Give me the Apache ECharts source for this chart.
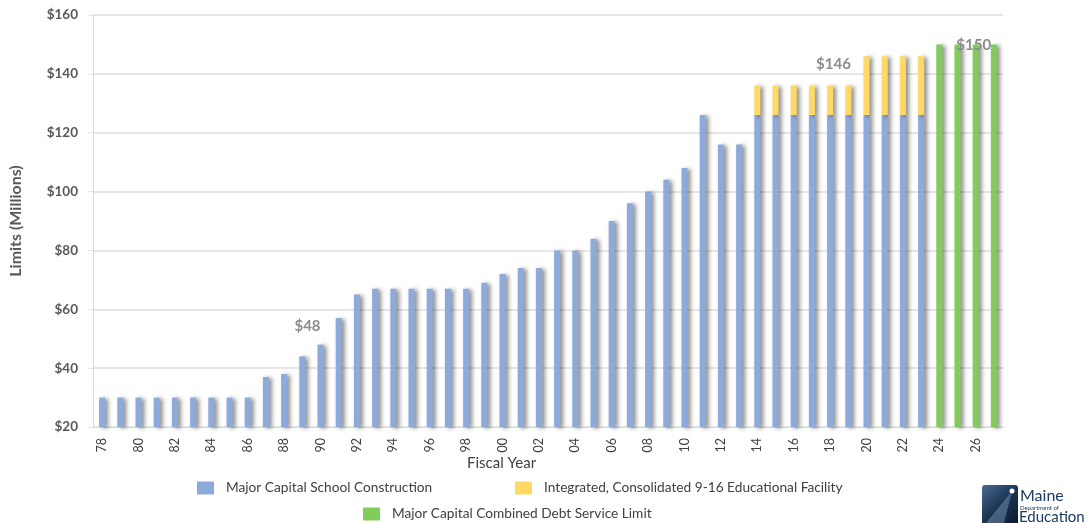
<!DOCTYPE html>
<html>
<head>
<meta charset="utf-8">
<style>
  html, body { margin: 0; padding: 0; background: #ffffff; }
  #chart { width: 1091px; height: 523px; }
</style>
<script src="https://cdn.jsdelivr.net/npm/echarts@6/dist/echarts.min.js"></script>
</head>
<body>
<div id="chart"></div>
<script>
// Fiscal years 1978 - 2027 (two-digit labels)
const years = ['78','79','80','81','82','83','84','85','86','87','88','89','90','91','92','93','94','95','96','97','98','99',
               '00','01','02','03','04','05','06','07','08','09','10','11','12','13','14','15','16','17','18','19',
               '20','21','22','23','24','25','26','27'];

// Major Capital School Construction limit ($ millions)
const construction = [30,30,30,30,30,30,30,30,30,37,38,44,48,57,65,67,67,67,67,67,67,69,
                      72,74,74,80,80,84,90,96,100,104,108,126,116,116,126,126,126,126,126,126,
                      126,126,126,126,null,null,null,null];

// Integrated, Consolidated 9-16 Educational Facility add-on ($ millions)
const integrated = [null,null,null,null,null,null,null,null,null,null,null,null,null,null,null,null,null,null,null,null,null,null,
                    null,null,null,null,null,null,null,null,null,null,null,null,null,null,10,10,10,10,10,10,
                    20,20,20,20,null,null,null,null];

// Major Capital Combined Debt Service Limit ($ millions)
const debtLimit = [null,null,null,null,null,null,null,null,null,null,null,null,null,null,null,null,null,null,null,null,null,null,
                   null,null,null,null,null,null,null,null,null,null,null,null,null,null,null,null,null,null,null,null,
                   null,null,null,null,150,150,150,150];

// Y axis ticks
const yTicks = { min: 20, max: 160, step: 20 };

const seriesNames = ['Major Capital School Construction',
                     'Integrated, Consolidated 9-16 Educational Facility',
                     'Major Capital Combined Debt Service Limit'];

const FONT = 'Lato, "Open Sans", sans-serif';
const shadow = { shadowColor: 'rgba(0,0,0,0.45)', shadowBlur: 4, shadowOffsetX: 3, shadowOffsetY: 1 };

function totalAt(i) {
  return (construction[i] || 0) + (integrated[i] || 0) + (debtLimit[i] || 0);
}

const calloutStyle = { fontFamily: FONT, fontSize: 15, fontWeight: 'bold', color: '#8c8c8c' };

const constructionData = construction.map((v, i) => {
  if (years[i] === '90') {
    return { value: v, label: Object.assign({ show: true, position: 'top', offset: [-13, -6],
             formatter: () => '$' + totalAt(i) }, calloutStyle) };
  }
  return v;
});
const integratedData = integrated.map((v, i) => {
  if (years[i] === '20') {
    return { value: v, label: Object.assign({ show: true, position: 'top', offset: [-33, 20],
             formatter: () => '$' + totalAt(i) }, calloutStyle) };
  }
  return v;
});
const debtData = debtLimit.map((v, i) => {
  if (years[i] === '26') {
    return { value: v, label: Object.assign({ show: true, position: 'top', distance: 0, offset: [-2, 8],
             formatter: () => '$' + totalAt(i) }, calloutStyle) };
  }
  return v;
});

const legendText = { fontFamily: FONT, fontSize: 13.7, color: '#404040', padding: [0, 0, 0, 7] };
function legendAt(name, left, top) {
  return { data: [name], left: left, top: top, padding: 0, icon: 'rect',
           itemWidth: 17, itemHeight: 13, textStyle: legendText };
}

const chart = echarts.init(document.getElementById('chart'), null, { renderer: 'canvas' });

chart.setOption({
  backgroundColor: '#ffffff',
  animation: false,
  textStyle: { fontFamily: FONT },
  grid: { left: 92, right: 88, top: 15, bottom: 96, containLabel: false },
  legend: [
    legendAt(seriesNames[0], 197, 481),
    legendAt(seriesNames[1], 515, 481),
    legendAt(seriesNames[2], 363, 507)
  ],
  xAxis: {
    type: 'category',
    data: years,
    axisLine: { lineStyle: { color: '#d9d9d9', width: 1 } },
    axisTick: { show: false },
    axisLabel: { interval: 1, rotate: 90, margin: 11, fontFamily: FONT, fontSize: 12.5, color: '#404040' }
  },
  yAxis: {
    type: 'value',
    min: yTicks.min, max: yTicks.max, interval: yTicks.step,
    name: 'Limits (Millions)',
    nameLocation: 'middle',
    nameGap: 69,
    nameTextStyle: { fontFamily: FONT, fontSize: 16, fontWeight: 'bold', color: '#595959' },
    axisLine: { show: true, lineStyle: { color: '#d9d9d9' } },
    axisTick: { show: true, length: 5, lineStyle: { color: '#e6e6e6' } },
    axisLabel: { formatter: v => '$' + v, fontFamily: FONT, fontSize: 13.5, fontWeight: 'bold', color: '#595959', margin: 15 },
    splitLine: { lineStyle: { color: '#e6e6e6', width: 2 } }
  },
  series: [
    {
      name: seriesNames[0], type: 'bar', stack: 'limit', data: constructionData,
      barWidth: 6, itemStyle: Object.assign({ color: '#8eaadb' }, shadow)
    },
    {
      name: seriesNames[1], type: 'bar', stack: 'limit', data: integratedData,
      barWidth: 6, itemStyle: Object.assign({ color: '#ffd966' }, shadow)
    },
    {
      name: seriesNames[2], type: 'bar', stack: 'limit', data: debtData,
      barWidth: 6, itemStyle: Object.assign({ color: '#82cc5c' }, shadow)
    }
  ],
  graphic: [
    {
      type: 'text', left: 467, top: 456,
      style: { text: 'Fiscal Year', font: '15px ' + FONT, fill: '#404040' }
    },
    {
      type: 'group', left: 982, top: 485,
      children: [
        { type: 'rect', shape: { x: 0, y: 0, width: 36, height: 38, r: [3, 3, 0, 0] },
          style: { fill: new echarts.graphic.LinearGradient(0, 0, 1, 1, [
            { offset: 0, color: '#4a6a90' }, { offset: 0.5, color: '#1c3654' }, { offset: 1, color: '#0a1a2c' }]) } },
        { type: 'polygon', shape: { points: [[30, 6], [4, 38], [22, 38]] },
          style: { fill: 'rgba(160,190,225,0.35)' } },
        { type: 'circle', shape: { cx: 30, cy: 6, r: 2.5 }, style: { fill: '#ffffff' } },
        { type: 'text', x: 38, y: 3, style: { text: 'Maine', font: '16px ' + FONT, fill: '#1a3a66' } },
        { type: 'text', x: 38, y: 20, style: { text: 'Department of', font: '6px ' + FONT, fill: '#1a3a66' } },
        { type: 'text', x: 37, y: 25, style: { text: 'Education', font: '15px ' + FONT, fill: '#1a3a66' } }
      ]
    }
  ]
});
</script>
</body>
</html>
